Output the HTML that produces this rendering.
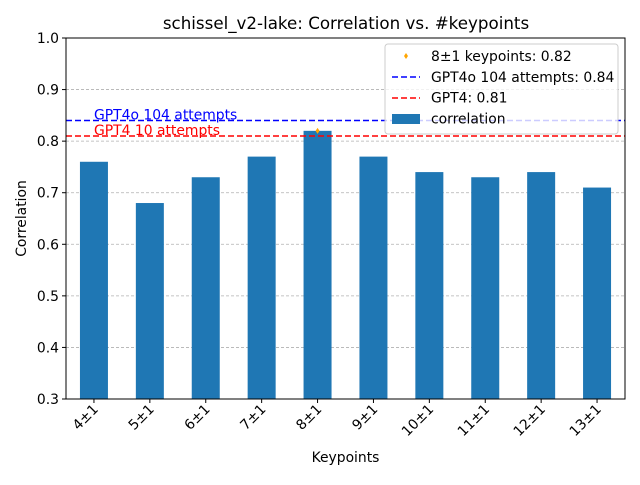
<!DOCTYPE html>
<html><head><meta charset="utf-8"><style>
body{margin:0;background:#fff;}
svg{font-family:"DejaVu Sans","Liberation Sans",sans-serif;}
</style></head><body>
<svg id="chart" width="640" height="480"></svg>
<script>
const categories=["4±1","5±1","6±1","7±1","8±1","9±1","10±1","11±1","12±1","13±1"];
const correlation=[0.76,0.68,0.73,0.77,0.82,0.77,0.74,0.73,0.74,0.71];
const yTicks=[0.3,0.4,0.5,0.6,0.7,0.8,0.9,1.0];
const gpt4o=0.84, gpt4=0.81, bestIndex=4, bestValue=0.82;
const NS="http://www.w3.org/2000/svg";
const svg=document.getElementById('chart');
const L=66,R=625,T=38,B=399;
const FS=13.9;
const y=v=>B-(v-0.3)/(1.0-0.3)*(B-T);
const step=(R-L)/categories.length;
const x=i=>L+step*(i+0.5);
function mk(tag,attrs,parent){const e=document.createElementNS(NS,tag);for(const k in attrs)e.setAttribute(k,attrs[k]);(parent||svg).appendChild(e);return e;}
function txt(s,attrs){const e=mk('text',attrs);e.textContent=s;return e;}
let t=txt("schissel_v2-lake: Correlation vs. #keypoints",{x:346,y:29,'font-size':16.7,'text-anchor':'middle'});

yTicks.forEach(v=>{
 const g=mk('line',{x1:L,x2:R,y1:y(v),y2:y(v),stroke:'#b0b0b0','stroke-dasharray':'3,2','stroke-width':0.8});
 
 mk('line',{x1:L-4,x2:L,y1:y(v),y2:y(v),stroke:'#000'});
 const lb=txt(v.toFixed(1),{x:L-7,y:y(v)+5,'font-size':FS,'text-anchor':'end'});
 
});
categories.forEach((c,i)=>{
 const b=mk('rect',{x:x(i)-14,y:y(correlation[i]),width:28,height:B-y(correlation[i]),fill:'#1f77b4'});
 
 mk('line',{x1:x(i),x2:x(i),y1:B,y2:B+4,stroke:'#000'});
 const lb=txt(c,{x:0,y:0,'font-size':FS,'text-anchor':'end',transform:`translate(${x(i)+5},${B+11}) rotate(-45)`});
 
});
let l1=mk('line',{x1:L,x2:R,y1:y(gpt4o),y2:y(gpt4o),stroke:'#0000ff','stroke-width':1.5,'stroke-dasharray':'6,3'});

let l2=mk('line',{x1:L,x2:R,y1:y(gpt4),y2:y(gpt4),stroke:'#ff0000','stroke-width':1.5,'stroke-dasharray':'6,3'});

let a1=txt("GPT4o 104 attempts",{x:94,y:y(gpt4o)-1,'font-size':FS,fill:'#0000ff'});

let a2=txt("GPT4 10 attempts",{x:94,y:y(gpt4)-1,'font-size':FS,fill:'#ff0000'});

const px=x(bestIndex),py=y(bestValue);
let m=mk('path',{d:`M${px} ${py-3}L${px+2} ${py}L${px} ${py+3}L${px-2} ${py}Z`,fill:'#ffa500'});

let ax=mk('rect',{x:L,y:T,width:R-L,height:B-T,fill:'none',stroke:'#000','stroke-width':1});

let xl=txt("Keypoints",{x:(L+R)/2,y:462,'font-size':FS,'text-anchor':'middle'});

let yl=txt("Correlation",{x:0,y:0,'font-size':FS,'text-anchor':'middle',transform:`translate(26,${(T+B)/2}) rotate(-90)`});

const lg=mk('g',{});

mk('rect',{x:385,y:44,width:233,height:90,rx:3,fill:'#fff','fill-opacity':0.8,stroke:'#ccc'},lg);
mk('path',{d:'M406 53L408 56L406 59L404 56Z',fill:'#ffa500'},lg);
mk('line',{x1:392,x2:420,y1:77,y2:77,stroke:'#0000ff','stroke-width':1.5,'stroke-dasharray':'6,3'},lg);
mk('line',{x1:392,x2:420,y1:98,y2:98,stroke:'#ff0000','stroke-width':1.5,'stroke-dasharray':'6,3'},lg);
mk('rect',{x:392,y:114,width:28,height:10,fill:'#1f77b4'},lg);
const items=["8±1 keypoints: 0.82","GPT4o 104 attempts: 0.84","GPT4: 0.81","correlation"];
items.forEach((s,i)=>{const e=document.createElementNS(NS,'text');e.setAttribute('x',431);e.setAttribute('y',61+i*20.8);e.setAttribute('font-size',FS);e.textContent=s;


lg.appendChild(e);});
</script>
</body></html>
